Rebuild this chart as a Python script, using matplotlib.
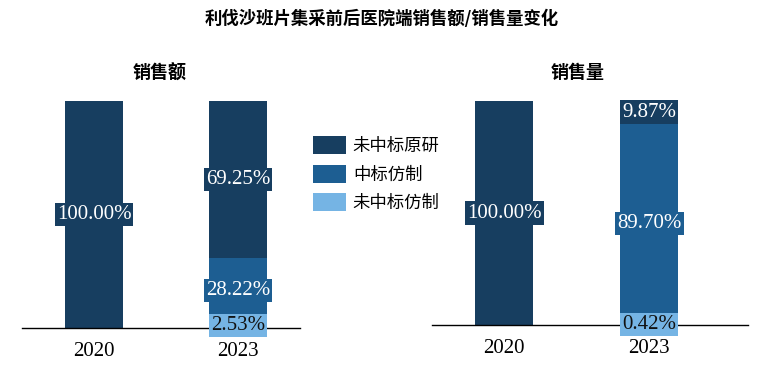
import matplotlib.pyplot as plt
from matplotlib.patches import Patch

plt.rcParams['font.family'] = ['Noto Sans CJK SC', 'DejaVu Sans']

years = ['2020', '2023']
series = ['未中标原研', '中标仿制', '未中标仿制']
colors = ['#173E60', '#1D5E92', '#75B4E4']
text_colors = ['white', 'white', '#111111']

# shares (%) per year, by series
amount = {
    '未中标原研': [100.00, 69.25],
    '中标仿制': [0.0, 28.22],
    '未中标仿制': [0.0, 2.53],
}
volume = {
    '未中标原研': [100.00, 9.87],
    '中标仿制': [0.0, 89.70],
    '未中标仿制': [0.0, 0.42],
}

num_font = 'Liberation Serif'


def draw(ax, data, xlim):
    x = range(len(years))
    bottoms = [0.0] * len(years)
    # stack from bottom: 未中标仿制, 中标仿制, 未中标原研
    for s in reversed(series):
        i = series.index(s)
        vals = data[s]
        ax.bar(x, vals, bottom=bottoms, width=0.40, color=colors[i])
        for xi, v, b in zip(x, vals, bottoms):
            if v > 0:
                ax.text(xi, b + v / 2, f'{v:.2f}%', ha='center', va='center',
                        color=text_colors[i], fontsize=15, family=num_font,
                        bbox=dict(boxstyle='square,pad=0.1', fc=colors[i], ec='none'))
        bottoms = [b + v for b, v in zip(bottoms, vals)]
    ax.set_xlim(*xlim)
    ax.set_ylim(0, 100)
    ax.set_xticks(list(x))
    ax.set_xticklabels(years, family=num_font, fontsize=15)
    ax.tick_params(axis='x', length=0, pad=10)
    ax.set_yticks([])
    for sp in ['top', 'right', 'left']:
        ax.spines[sp].set_visible(False)
    ax.spines['bottom'].set_linewidth(1.0)
    ax.set_zorder(1)


fig = plt.figure(figsize=(7.64, 3.72), dpi=100)

ax1 = fig.add_axes([22 / 764, 44 / 372, 278 / 764, 227 / 372])
draw(ax1, amount, (-0.5, 1.43))
ax2 = fig.add_axes([432 / 764, 47 / 372, 316 / 764, 224 / 372])
draw(ax2, volume, (-0.497, 1.68))

fig.text(0.5, 1 - 19 / 372, '利伐沙班片集采前后医院端销售额/销售量变化',
         ha='center', va='center', fontsize=12.5, fontweight='bold')
fig.text(160 / 764, 1 - 73 / 372, '销售额', ha='center', va='center',
         fontsize=13, fontweight='bold')
fig.text(578 / 764, 1 - 73 / 372, '销售量', ha='center', va='center',
         fontsize=13, fontweight='bold')

handles = [Patch(facecolor=c, edgecolor='none') for c in colors]
fig.legend(handles, series, loc='upper left', bbox_to_anchor=(306 / 764, 1 - 129 / 372),
           frameon=False, fontsize=12.5, handlelength=1.9, handleheight=1.25,
           handletextpad=0.4, labelspacing=0.55, borderaxespad=0)

fig.savefig('out.png', dpi=100)
